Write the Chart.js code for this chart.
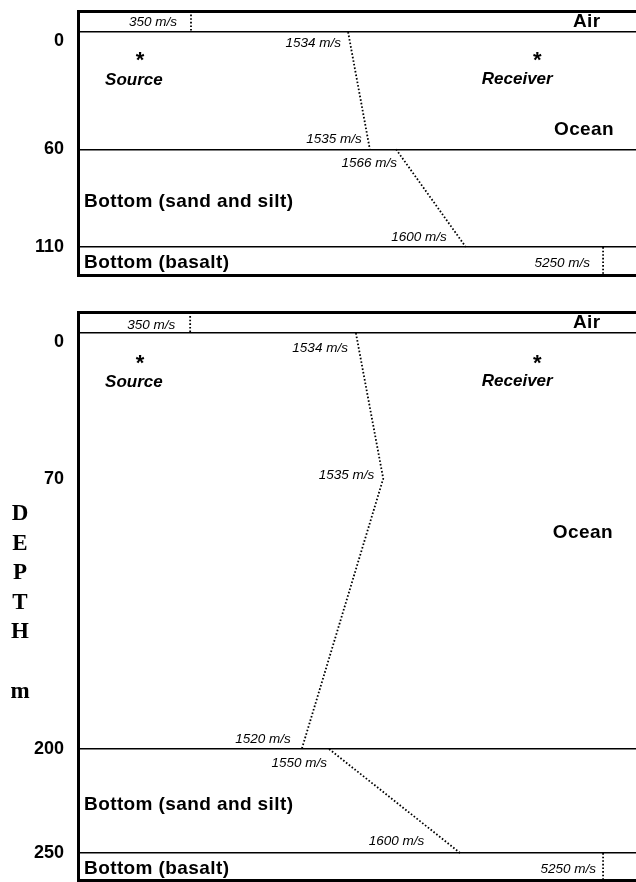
<!DOCTYPE html>
<html>
<head>
<meta charset="utf-8">
<script src="https://cdn.jsdelivr.net/npm/chart.js@4/dist/chart.umd.min.js"></script>
<style>
  html, body { margin: 0; padding: 0; background: #fff; }
  #wrap { position: relative; width: 636px; height: 882px; overflow: hidden; }
  #shallow { position: absolute; left: 0; top: 0; }
  #deep { position: absolute; left: 0; top: 282px; }
</style>
</head>
<body>
<div id="wrap">
  <canvas id="shallow" width="636" height="282"></canvas>
  <canvas id="deep" width="636" height="600"></canvas>
</div>
<script>
// ---------- Upper section: shallow water over sand/silt and basalt ----------
const shallowDepthTicks = [0, 60, 110];          // m
const shallowAirSpeed = 350;                      // m/s
const shallowWaterDepth = [0, 60];                // m
const shallowWaterSpeed = [1534, 1535];           // m/s
const shallowSedimentDepth = [60, 110];           // m
const shallowSedimentSpeed = [1566, 1600];        // m/s
const shallowBasaltSpeed = 5250;                  // m/s

// ---------- Lower section: deeper water over sand/silt and basalt ----------
const deepDepthTicks = [0, 70, 200, 250];         // m
const deepAirSpeed = 350;                         // m/s
const deepWaterDepth = [0, 70, 200];              // m
const deepWaterSpeed = [1534, 1535, 1520];        // m/s
const deepSedimentDepth = [200, 250];             // m
const deepSedimentSpeed = [1550, 1600];           // m/s
const deepBasaltSpeed = 5250;                     // m/s

// Source / receiver depth (m)
const sourceDepth = 12.5;
const receiverDepth = 12.5;

// ---------- Schematic layout (horizontal placement on a 0-100 sketch axis) ----------
const shallowLayout = {
  range: [-10.74, 124.3],
  padding: { top: 11, bottom: 7, left: 0, right: 0 },
  airX: 20.25, basaltX: 94.1,
  waterX: [48.4, 52.3], sedimentX: [57.0, 69.5],
  airLabel: [-14, -10], basaltLabel: [-13, 16],
  waterLabels: [[-7, 11], [-8, -10]],
  sedimentLabels: [[1, 14], [-19, -10]],
  sourceX: 11.1, receiverX: 82.3,
  sourceText: [-6, 24], receiverText: [-20, 23],
  airNameX: 88.7, oceanName: [85.3, 50.1], sandName: [1.08, 87], basaltName: [1.08, 118.2]
};
const deepLayout = {
  range: [-9.86, 263.2],
  padding: { top: 30.5, bottom: 1.5, left: 0, right: 0 },
  airX: 20.1, basaltX: 94.1,
  waterX: [49.8, 54.7, 40.1], sedimentX: [45.0, 68.5],
  airLabel: [-15, -8], basaltLabel: [-7, 16],
  waterLabels: [[-8, 15], [-9, -3], [-11, -10]],
  sedimentLabels: [[-2, 14], [-36, -12]],
  sourceX: 11.1, receiverX: 82.3,
  sourceText: [-6, 23], receiverText: [-20, 22],
  airNameX: 88.7, oceanName: [85.1, 96.2], sandName: [1.08, 226.9], basaltName: [1.08, 257.7]
};

const SANS = '"Liberation Sans", Arial, Helvetica, sans-serif';
const SERIF = '"Liberation Serif", "Times New Roman", serif';
const speedFont = 'italic 13.5px ' + SANS;
const layerFont = 'bold 19px ' + SANS;
const markFont = 'italic bold 17px ' + SANS;
const starFont = 'bold 22px ' + SANS;

const dotted = {
  showLine: true, borderColor: '#000', borderWidth: 1.8,
  borderDash: [1.6, 2.0], borderCapStyle: 'butt',
  pointRadius: 0, pointHoverRadius: 0, fill: false, clip: false
};

function trace(depths, xs, speeds, offsets) {
  return Object.assign({}, dotted, {
    data: depths.map((d, i) => ({ x: xs[i], y: d })),
    speeds: speeds,
    labelOffsets: offsets
  });
}

// Draws speed labels, layer names, source/receiver marks and the side title
const sectionText = {
  id: 'sectionText',
  afterDatasetsDraw(chart, args, opts) {
    const ctx = chart.ctx;
    const xs = chart.scales.x, ys = chart.scales.y;
    ctx.save();
    ctx.fillStyle = '#000';

    chart.data.datasets.forEach((ds, di) => {
      if (!ds.speeds) return;
      const meta = chart.getDatasetMeta(di);
      ds.speeds.forEach((s, i) => {
        if (s == null) return;
        const p = meta.data[i];
        const off = ds.labelOffsets[i];
        ctx.font = speedFont;
        ctx.textAlign = 'right';
        ctx.textBaseline = 'middle';
        ctx.fillText(s + ' m/s', p.x + off[0], p.y + off[1]);
      });
    });

    (opts.items || []).forEach(it => {
      const px = xs.getPixelForValue(it.x) + (it.dx || 0);
      const py = ys.getPixelForValue(it.y) + (it.dy || 0);
      ctx.font = it.font;
      ctx.textAlign = it.align || 'left';
      try { ctx.letterSpacing = it.spacing || '0px'; } catch (e) {}
      if (it.star) {
        ctx.textBaseline = 'alphabetic';
        const m = ctx.measureText(it.text);
        ctx.fillText(it.text, px, py + (m.actualBoundingBoxAscent - m.actualBoundingBoxDescent) / 2);
      } else {
        ctx.textBaseline = 'middle';
        ctx.fillText(it.text, px, py);
      }
    });
    try { ctx.letterSpacing = '0px'; } catch (e) {}

    if (opts.side) {
      const s = opts.side;
      ctx.font = s.font;
      ctx.textAlign = 'center';
      ctx.textBaseline = 'middle';
      s.lines.forEach((ch, i) => { if (ch) ctx.fillText(ch, s.x, s.y0 + i * s.step); });
    }
    ctx.restore();
  }
};

function textItems(L) {
  const [lo, hi] = L.range;
  return [
    { text: 'Air', x: L.airNameX, y: lo / 2, font: layerFont, spacing: '0.4px' },
    { text: 'Ocean', x: L.oceanName[0], y: L.oceanName[1], font: layerFont, spacing: '0.4px' },
    { text: 'Bottom (sand and silt)', x: L.sandName[0], y: L.sandName[1], font: layerFont, spacing: '0.4px' },
    { text: 'Bottom (basalt)', x: L.basaltName[0], y: L.basaltName[1], font: layerFont, spacing: '0.4px' },
    { text: '*', x: L.sourceX, y: sourceDepth, font: starFont, align: 'center', star: true },
    { text: 'Source', x: L.sourceX, y: sourceDepth, dx: L.sourceText[0], dy: L.sourceText[1], font: markFont, align: 'center' },
    { text: '*', x: L.receiverX, y: receiverDepth, font: starFont, align: 'center', star: true },
    { text: 'Receiver', x: L.receiverX, y: receiverDepth, dx: L.receiverText[0], dy: L.receiverText[1], font: markFont, align: 'center' }
  ];
}

function makeSection(id, L, ticks, airSpeed, waterDepth, waterSpeed, sedDepth, sedSpeed, basaltSpeed, side) {
  const [lo, hi] = L.range;
  const lastWater = waterDepth[waterDepth.length - 1];
  const lastSed = sedDepth[sedDepth.length - 1];
  // interfaces between layers get a solid line; the panel edges get a heavy frame line
  const interfaces = [0, lastWater, lastSed];
  const datasets = [
    trace([lo, 0], [L.airX, L.airX], [null, airSpeed], [null, L.airLabel]),
    trace(waterDepth, L.waterX, waterSpeed, L.waterLabels),
    trace(sedDepth, L.sedimentX, sedSpeed, L.sedimentLabels),
    trace([lastSed, hi], [L.basaltX, L.basaltX], [basaltSpeed, null], [L.basaltLabel, null])
  ];
  const isEdge = v => v === lo || v === hi;
  return new Chart(document.getElementById(id), {
    type: 'scatter',
    data: { datasets },
    options: {
      responsive: false,
      animation: false,
      events: [],
      layout: { padding: L.padding },
      plugins: {
        legend: { display: false },
        tooltip: { enabled: false },
        sectionText: { items: textItems(L), side: side }
      },
      scales: {
        x: { display: false, min: 0, max: 100 },
        y: {
          reverse: true, min: lo, max: hi,
          afterBuildTicks: s => { s.ticks = [lo].concat(ticks, [hi]).map(v => ({ value: v })); },
          afterFit: s => { s.width = 78; s.paddingTop = 0; s.paddingBottom = 0; },
          border: { display: true, color: '#000', width: 3 },
          grid: {
            color: '#000', drawTicks: false,
            lineWidth: c => {
              if (!c.tick) return 0;
              if (isEdge(c.tick.value)) return 3;
              return interfaces.includes(c.tick.value) ? 1.5 : 0;
            }
          },
          ticks: {
            autoSkip: false, padding: 14, color: '#000',
            font: { family: SANS, size: 18, weight: 'bold', lineHeight: 1.0 },
            callback: v => isEdge(v) ? '' : (v === 0 ? ['', '0'] : String(v))
          }
        }
      }
    },
    plugins: [sectionText]
  });
}

makeSection('shallow', shallowLayout, shallowDepthTicks, shallowAirSpeed,
  shallowWaterDepth, shallowWaterSpeed, shallowSedimentDepth, shallowSedimentSpeed,
  shallowBasaltSpeed, null);

makeSection('deep', deepLayout, deepDepthTicks, deepAirSpeed,
  deepWaterDepth, deepWaterSpeed, deepSedimentDepth, deepSedimentSpeed,
  deepBasaltSpeed,
  { lines: ['D', 'E', 'P', 'T', 'H', '', 'm'], x: 20, y0: 232, step: 29.6, font: 'bold 23px ' + SERIF });
</script>
</body>
</html>
